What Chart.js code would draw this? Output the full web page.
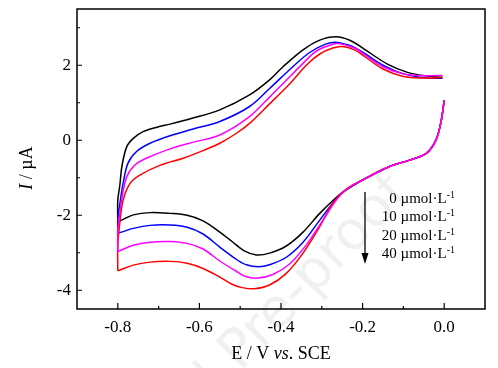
<!DOCTYPE html>
<html>
<head>
<meta charset="utf-8">
<script src="https://cdn.jsdelivr.net/npm/chart.js@4"></script>
<style>
  body { margin: 0; background: #fff; }
  #wrap { width: 498px; height: 368px; }
</style>
</head>
<body>
<div id="wrap"><canvas id="cv" width="498" height="368"></canvas></div>
<script>
// concentration labels and colours of the four CV curves
const concentrations = ['0', '10', '20', '40'];
const lineColors = ['#000000', '#0000FF', '#FF00FF', '#FF0000'];

// anodic sweep (-0.8 V -> 0 V), potential in V and current in uA
const E_0_up = [-0.800, -0.800, -0.795, -0.790, -0.778, -0.762, -0.738, -0.700, -0.672, -0.620, -0.550, -0.477, -0.428, -0.395, -0.346, -0.305, -0.265, -0.230, -0.196, -0.139, -0.090, -0.041, -0.004];
const I_0_up = [-2.17, -1.60, -1.20, -0.70, -0.17, 0.05, 0.23, 0.36, 0.43, 0.58, 0.81, 1.21, 1.61, 1.96, 2.41, 2.67, 2.76, 2.66, 2.43, 2.03, 1.81, 1.71, 1.68];
const E_10_up = [-0.800, -0.800, -0.795, -0.787, -0.775, -0.754, -0.721, -0.672, -0.615, -0.550, -0.477, -0.428, -0.371, -0.330, -0.289, -0.262, -0.225, -0.196, -0.150, -0.100, -0.050, -0.004];
const I_10_up = [-2.46, -2.10, -1.70, -1.15, -0.61, -0.30, -0.08, 0.12, 0.30, 0.50, 0.90, 1.38, 1.96, 2.34, 2.57, 2.61, 2.50, 2.32, 2.00, 1.77, 1.67, 1.65];
const E_20_up = [-0.800, -0.800, -0.795, -0.790, -0.778, -0.758, -0.730, -0.672, -0.615, -0.550, -0.477, -0.428, -0.387, -0.346, -0.313, -0.273, -0.255, -0.220, -0.196, -0.150, -0.100, -0.050, -0.004];
const I_20_up = [-2.97, -2.40, -1.95, -1.55, -0.97, -0.66, -0.48, -0.23, -0.05, 0.14, 0.63, 1.15, 1.60, 2.05, 2.38, 2.56, 2.57, 2.46, 2.29, 1.96, 1.77, 1.72, 1.73];
const E_40_up = [-0.800, -0.800, -0.795, -0.787, -0.770, -0.746, -0.697, -0.640, -0.590, -0.550, -0.510, -0.477, -0.428, -0.379, -0.338, -0.305, -0.273, -0.250, -0.220, -0.196, -0.150, -0.100, -0.050, -0.004];
const I_40_up = [-3.48, -2.80, -2.20, -1.60, -1.15, -0.93, -0.67, -0.48, -0.27, -0.08, 0.18, 0.45, 0.97, 1.50, 2.00, 2.30, 2.46, 2.50, 2.41, 2.24, 1.90, 1.70, 1.66, 1.67];

// cathodic sweep (0 V -> -0.8 V)
const E_0_down = [0.000, -0.007, -0.020, -0.044, -0.085, -0.134, -0.200, -0.240, -0.264, -0.305, -0.346, -0.387, -0.428, -0.460, -0.490, -0.520, -0.550, -0.591, -0.630, -0.672, -0.721, -0.762, -0.791, -0.800];
const I_0_down = [1.07, 0.54, 0.01, -0.35, -0.53, -0.70, -1.06, -1.32, -1.52, -1.95, -2.45, -2.82, -3.01, -3.06, -2.95, -2.70, -2.45, -2.15, -2.00, -1.95, -1.93, -1.99, -2.13, -2.17];
const E_10_down = [0.000, -0.007, -0.020, -0.044, -0.085, -0.134, -0.200, -0.240, -0.264, -0.305, -0.346, -0.387, -0.428, -0.455, -0.485, -0.509, -0.550, -0.591, -0.630, -0.672, -0.721, -0.762, -0.795, -0.800];
const I_10_down = [1.07, 0.54, 0.01, -0.35, -0.53, -0.70, -1.06, -1.32, -1.55, -2.13, -2.72, -3.12, -3.32, -3.37, -3.32, -3.18, -2.85, -2.50, -2.32, -2.26, -2.27, -2.35, -2.46, -2.46];
const E_20_down = [0.000, -0.007, -0.020, -0.044, -0.085, -0.134, -0.200, -0.240, -0.264, -0.297, -0.338, -0.379, -0.420, -0.460, -0.490, -0.509, -0.550, -0.591, -0.630, -0.672, -0.721, -0.762, -0.800];
const I_20_down = [1.07, 0.54, 0.01, -0.35, -0.53, -0.70, -1.06, -1.32, -1.59, -2.13, -2.79, -3.30, -3.58, -3.68, -3.62, -3.50, -3.22, -2.90, -2.75, -2.70, -2.72, -2.80, -2.97];
const E_40_down = [0.000, -0.007, -0.020, -0.044, -0.085, -0.134, -0.200, -0.240, -0.273, -0.305, -0.346, -0.387, -0.428, -0.465, -0.495, -0.520, -0.550, -0.591, -0.630, -0.672, -0.721, -0.762, -0.800];
const I_40_down = [1.07, 0.54, 0.01, -0.35, -0.53, -0.70, -1.06, -1.30, -1.68, -2.30, -3.01, -3.55, -3.86, -3.96, -3.93, -3.84, -3.65, -3.42, -3.28, -3.23, -3.25, -3.33, -3.48];

// axis ticks
const xMajorTicks = [-0.8, -0.6, -0.4, -0.2, 0.0];
const xMinorTicks = [-0.7, -0.5, -0.3, -0.1];
const yMajorTicks = [-4, -2, 0, 2];
const yMinorTicks = [-3, -1, 1, 3];

const upE = [E_0_up, E_10_up, E_20_up, E_40_up];
const upI = [I_0_up, I_10_up, I_20_up, I_40_up];
const downE = [E_0_down, E_10_down, E_20_down, E_40_down];
const downI = [I_0_down, I_10_down, I_20_down, I_40_down];
const drawOrder = [3, 2, 0, 1]; // magenta on top, then red, blue, black

function toPoints(E, I) {
    return E.map((e, i) => ({ x: e, y: I[i] }));
}

const datasets = [];
concentrations.forEach((c, k) => {
    [[upE[k], upI[k]], [downE[k], downI[k]]].forEach(([E, I]) => {
        datasets.push({
            label: c + ' µmol·L-1',
            data: toPoints(E, I),
            borderColor: lineColors[k],
            borderWidth: 1.5,
            pointRadius: 0,
            showLine: true,
            tension: 0.35,
            fill: false,
            order: drawOrder[k]
        });
    });
});

const SERIF = '"Liberation Serif", "Times New Roman", serif';

// frame, inward ticks, axis titles, annotation
const decorations = {
    id: 'decorations',
    afterDraw(chart) {
        const ctx = chart.ctx;
        const a = chart.chartArea;
        const sx = chart.scales.x, sy = chart.scales.y;
        ctx.save();
        ctx.strokeStyle = '#000';
        ctx.lineWidth = 1.5;
        ctx.strokeRect(a.left, a.top, a.right - a.left, a.bottom - a.top);

        ctx.lineWidth = 1.2;
        ctx.beginPath();
        xMajorTicks.forEach(v => { const p = sx.getPixelForValue(v); ctx.moveTo(p, a.bottom); ctx.lineTo(p, a.bottom - 6); });
        xMinorTicks.forEach(v => { const p = sx.getPixelForValue(v); ctx.moveTo(p, a.bottom); ctx.lineTo(p, a.bottom - 3); });
        yMajorTicks.forEach(v => { const p = sy.getPixelForValue(v); ctx.moveTo(a.left, p); ctx.lineTo(a.left + 5, p); });
        yMinorTicks.forEach(v => { const p = sy.getPixelForValue(v); ctx.moveTo(a.left, p); ctx.lineTo(a.left + 3, p); });
        ctx.stroke();

        ctx.fillStyle = '#000';
        ctx.textBaseline = 'middle';

        // x title: E / V vs. SCE
        const parts = [['E / V ', ''], ['vs', 'italic '], ['. SCE', '']];
        let total = 0;
        parts.forEach(p => { ctx.font = p[1] + '18px ' + SERIF; total += ctx.measureText(p[0]).width; });
        let x = (a.left + a.right) / 2 - total / 2;
        parts.forEach(p => {
            ctx.font = p[1] + '18px ' + SERIF;
            ctx.fillText(p[0], x, 354);
            x += ctx.measureText(p[0]).width;
        });

        // y title: I / µA
        ctx.save();
        ctx.translate(27, 168);
        ctx.rotate(-Math.PI / 2);
        const yparts = [['I', 'italic '], [' / µA', '']];
        total = 0;
        yparts.forEach(p => { ctx.font = p[1] + '18px ' + SERIF; total += ctx.measureText(p[0]).width; });
        x = -total / 2;
        yparts.forEach(p => {
            ctx.font = p[1] + '18px ' + SERIF;
            ctx.fillText(p[0], x, 0);
            x += ctx.measureText(p[0]).width;
        });
        ctx.restore();

        // concentration labels
        concentrations.forEach((c, i) => {
            const y = 199 + i * 18.5;
            const main = c + ' µmol·L';
            ctx.font = '15px ' + SERIF;
            const wm = ctx.measureText(main).width;
            ctx.font = '10px ' + SERIF;
            const ws = ctx.measureText('-1').width;
            const x0 = 455 - wm - ws;
            ctx.font = '15px ' + SERIF;
            ctx.fillText(main, x0, y);
            ctx.font = '10px ' + SERIF;
            ctx.fillText('-1', x0 + wm, y - 4);
        });

        // arrow
        ctx.lineWidth = 1.3;
        ctx.beginPath();
        ctx.moveTo(365, 192);
        ctx.lineTo(365, 256);
        ctx.stroke();
        ctx.beginPath();
        ctx.moveTo(361.5, 253);
        ctx.lineTo(368.5, 253);
        ctx.lineTo(365, 264);
        ctx.closePath();
        ctx.fill();

        // faint watermark
        ctx.save();
        ctx.translate(240, 372);
        ctx.rotate(-46 * Math.PI / 180);
        ctx.font = '54px "DejaVu Sans", sans-serif';
        ctx.fillStyle = 'rgba(0,0,0,0.06)';
        ctx.textBaseline = 'alphabetic';
        ctx.textAlign = 'left';
        ctx.fillText('Pre-proof', 0, 0);
        ctx.textAlign = 'right';
        ctx.fillText('Journal ', 0, 0);
        ctx.restore();

        ctx.restore();
    }
};

new Chart(document.getElementById('cv').getContext('2d'), {
    type: 'scatter',
    data: { datasets: datasets },
    options: {
        responsive: false,
        animation: false,
        layout: { padding: { left: 0, right: 13, top: 9, bottom: 0 } },
        plugins: { legend: { display: false }, tooltip: { enabled: false } },
        scales: {
            x: {
                type: 'linear',
                min: -0.9,
                max: 0.1,
                grid: { display: false, drawTicks: false },
                border: { display: false },
                afterFit: s => { s.height = 59; s.paddingLeft = 0; s.paddingRight = 0; },
                afterBuildTicks: s => { s.ticks = xMajorTicks.map(v => ({ value: v })); },
                ticks: {
                    color: '#000',
                    padding: 8,
                    font: { family: SERIF, size: 17 },
                    callback: v => v.toFixed(1)
                }
            },
            y: {
                type: 'linear',
                min: -4.5,
                max: 3.5,
                grid: { display: false, drawTicks: false },
                border: { display: false },
                afterFit: s => { s.width = 77; s.paddingTop = 0; s.paddingBottom = 0; },
                afterBuildTicks: s => { s.ticks = yMajorTicks.map(v => ({ value: v })); },
                ticks: {
                    color: '#000',
                    padding: 6,
                    font: { family: SERIF, size: 17 },
                    callback: v => String(v)
                }
            }
        }
    },
    plugins: [decorations]
});
</script>
</body>
</html>
